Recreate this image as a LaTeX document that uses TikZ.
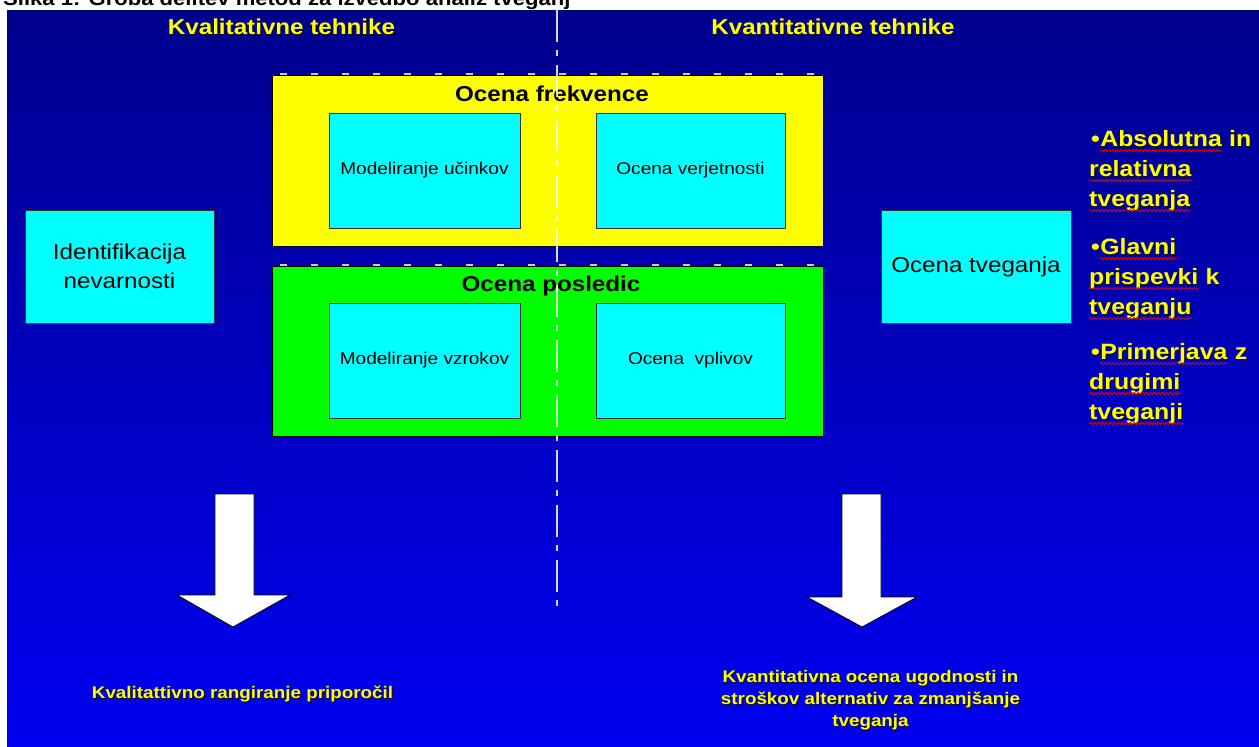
\documentclass[tikz,border=0pt]{standalone}
\usepackage{fontspec}
\setmainfont{Liberation Sans}[FakeStretch=1.12]
\usetikzlibrary{decorations.pathmorphing}
\definecolor{bgtop}{RGB}{0,0,140}
\definecolor{bgbot}{RGB}{0,0,242}
\definecolor{shadowc}{RGB}{20,20,0}
\definecolor{boxcyan}{RGB}{0,255,255}
\definecolor{boxyellow}{RGB}{255,255,0}
\definecolor{boxgreen}{RGB}{0,255,0}
\definecolor{txtyellow}{RGB}{255,255,0}
\definecolor{wavered}{RGB}{230,0,0}
\newcommand\shd[1]{\rlap{\kern1pt\raisebox{-1pt}{\textcolor{shadowc}{#1}}}#1}
\tikzset{
  cyanbox/.style={draw=black!80, line width=1pt, fill=boxcyan, inner sep=0pt, align=center,
    font=\fontsize{17}{20}\selectfont},
  groupbox/.style={draw=black, line width=1pt, inner sep=0pt, anchor=north west,
    minimum width=551pt},
  ytxt/.style={text=txtyellow, inner sep=0pt},
  btxt/.style={text=black, inner sep=0pt, font=\bfseries\fontsize{21.6}{26}\selectfont},
  headfont/.style={font=\bfseries\fontsize{21.6}{26}\selectfont},
  listfont/.style={text=txtyellow, inner sep=0pt, font=\bfseries\fontsize{22.2}{30}\selectfont, anchor=base west},
  botfont/.style={font=\bfseries\fontsize{16.8}{22}\selectfont},
  blockarrow/.style={fill=white, draw=black, line width=0.8pt},
  ticks/.style={draw=black!20, line width=2pt, dash pattern=on 7pt off 24pt},
  midline/.style={draw=white, draw opacity=0.85, line width=1.3pt,
    dash pattern=on 32pt off 8pt on 6pt off 9pt},
  wave/.style={draw=wavered, line width=0.8pt, decorate,
    decoration={snake, segment length=4pt, amplitude=1.1pt}},
}
\newcommand\squig[1]{\draw[wave] ([yshift=-4.5pt]#1.base west) -- ([yshift=-4.5pt]#1.base east);}
\begin{document}
\begin{tikzpicture}[x=1pt, y=-1pt]
\useasboundingbox (0,0) rectangle (1259,747);
\clip (0,0) rectangle (1259,747);
% title (cut at the top edge)
\node[anchor=base west, inner sep=0pt, font=\bfseries\fontsize{19.7}{22}\selectfont] (title) at (3,5)
  {Slika 1: Groba delitev metod za izvedbo analiz tveganj};
% background
\shade[top color=bgtop, bottom color=bgbot] (7,10) rectangle (1259,747);
% headings
\node[ytxt, headfont, anchor=base] (hl) at (281.5,34) {\shd{Kvalitativne tehnike}};
\node[ytxt, headfont, anchor=base] (hr) at (833,34) {\shd{Kvantitativne tehnike}};
% frequency group
\node[groupbox, fill=boxyellow, minimum height=171pt] (freq) at (272,75) {};
\draw[ticks] ([xshift=8pt,yshift=1.5pt]freq.north west) -- ([yshift=1.5pt]freq.north east);
\node[btxt, anchor=base] (freqT) at (552,101) {Ocena frekvence};
\node[cyanbox, minimum width=191pt, minimum height=115pt] (mu) at (424.5,170.5) {Modeliranje učinkov};
\node[cyanbox, minimum width=189pt, minimum height=115pt] (ov) at (690.5,170.5) {Ocena verjetnosti};
% consequences group
\node[groupbox, fill=boxgreen, minimum height=170pt] (cons) at (272,266) {};
\draw[ticks] ([xshift=8pt,yshift=1.5pt]cons.north west) -- ([yshift=1.5pt]cons.north east);
\node[btxt, anchor=base] (consT) at (551,291) {Ocena posledic};
\node[cyanbox, minimum width=191pt, minimum height=115pt] (mv) at (424.5,360.5) {Modeliranje vzrokov};
\node[cyanbox, minimum width=189pt, minimum height=115pt] (ovp) at (690.5,360.5) {Ocena\ \ vplivov};
% side boxes
\node[cyanbox, minimum width=189pt, minimum height=113pt, font=\fontsize{21.6}{29}\selectfont] (id) at (119.5,266.5) {Identifikacija\\nevarnosti};
\node[cyanbox, minimum width=190pt, minimum height=113pt, font=\fontsize{21.6}{26}\selectfont] (ot) at (976,266.5) {Ocena tveganja};
% right list
\node[listfont] (b1) at (1091,146) {\shd{•}};
\node[listfont] (w1) at (b1.base east) {\shd{Absolutna}};
\node[listfont] (e1) at ([xshift=6.9pt]w1.base east) {\shd{in}};
\node[listfont] (w2) at (1089,176) {\shd{relativna}};
\node[listfont] (w3) at (1089,206) {\shd{tveganja}};
\node[listfont] (b4) at (1091,254) {\shd{•}};
\node[listfont] (w4) at (b4.base east) {\shd{Glavni}};
\node[listfont] (w5) at (1089,284) {\shd{prispevki}};
\node[listfont] (e5) at ([xshift=6.9pt]w5.base east) {\shd{k}};
\node[listfont] (w6) at (1089,314) {\shd{tveganju}};
\node[listfont] (b7) at (1091,359) {\shd{•}};
\node[listfont] (w7) at (b7.base east) {\shd{Primerjava}};
\node[listfont] (e7) at ([xshift=6.9pt]w7.base east) {\shd{z}};
\node[listfont] (w8) at (1089,389) {\shd{drugimi}};
\node[listfont] (w9) at (1089,419) {\shd{tveganji}};
\foreach \w in {w1,w2,w3,w4,w5,w6,w7,w8,w9} {\squig{\w}}
% dash-dot divider
\coordinate (mtop) at (557,10);
\coordinate (mbot) at (557,610);
\draw[midline] (mtop) -- (mbot);
% block arrows
\draw[blockarrow] (215,494) -- (254,494) -- (254,595) -- (290,595) -- (233,627) -- (177,595) -- (215,595) -- cycle;
\draw[blockarrow] (842,494) -- (881,494) -- (881,597) -- (917,597) -- (862,627) -- (807,597) -- (842,597) -- cycle;
% results
\node[ytxt, botfont, anchor=base] (resL) at (242.5,698) {\shd{Kvalitattivno rangiranje priporočil}};
\node[ytxt, botfont, anchor=north, align=center] (resR) at (870.5,669.7)
  {\shd{Kvantitativna ocena ugodnosti in}\\\shd{stroškov alternativ za zmanjšanje}\\\shd{tveganja}};
\end{tikzpicture}
\end{document}
